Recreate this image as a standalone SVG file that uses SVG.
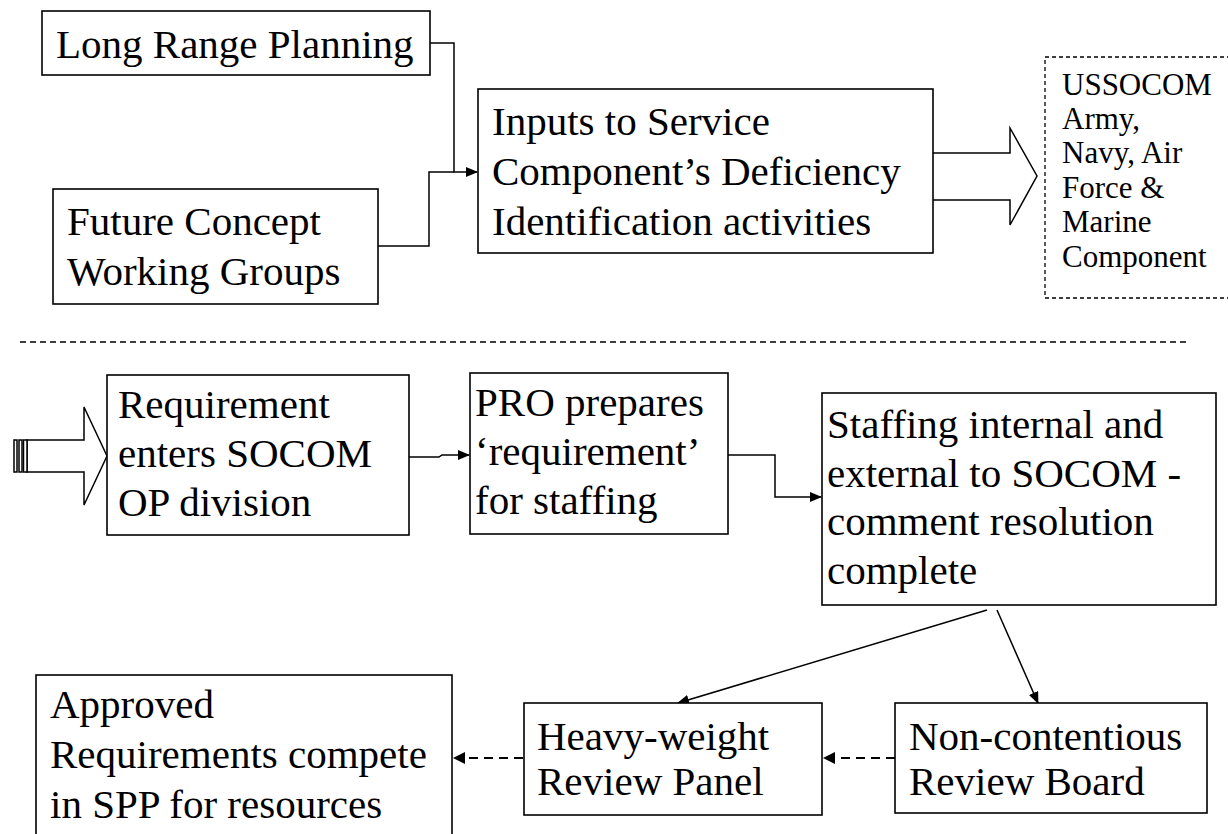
<svg xmlns="http://www.w3.org/2000/svg" width="1228" height="834" viewBox="0 0 1228 834">
<defs>
<style>
.box{fill:#fff;stroke:#000;stroke-width:1.6}
.t{font-family:'Liberation Serif','Times New Roman',Times,'DejaVu Serif',serif;font-size:41px;fill:#000}
.ts{font-family:'Liberation Serif','Times New Roman',Times,'DejaVu Serif',serif;font-size:31px;fill:#000}
.ln{fill:none;stroke:#000;stroke-width:1.5}
.dl{fill:none;stroke:#000;stroke-width:2;stroke-dasharray:9,6}
.hollow{fill:#fff;stroke:#000;stroke-width:1.5}
</style>
<marker id="ah" markerWidth="12" markerHeight="10" refX="11" refY="5" orient="auto" markerUnits="userSpaceOnUse">
<path d="M0,0 L12,5 L0,10 z" fill="#000"/>
</marker>
</defs>
<rect width="1228" height="834" fill="#fff"/>

<g id="connectors">
<path class="ln" d="M430,43 H454 V172 H477" marker-end="url(#ah)"/>
<path class="ln" d="M378,246 H429 V172 H454"/>
<path class="ln" d="M409,457 H439 L442,455 H469" marker-end="url(#ah)"/>
<path class="ln" d="M728,455 H775 V497 H821" marker-end="url(#ah)"/>
<path class="ln" d="M987,610 L678,703" marker-end="url(#ah)"/>
<path class="ln" d="M997,610 L1038,703" marker-end="url(#ah)"/>
<path class="dl" d="M895,758 H834"/>
<path d="M823,758 L835,752 L835,764 z" fill="#000"/>
<path class="dl" d="M523,758 H464"/>
<path d="M453,758 L465,752 L465,764 z" fill="#000"/>
<path class="hollow" d="M933,153 H1010 V128 L1037,176 L1010,225 V200 H933"/>
<path class="hollow" d="M27,440 H84 V407 L107,456 L84,505 V472 H27 z"/>
<rect class="hollow" x="14" y="440" width="3" height="32"/>
<rect class="hollow" x="19" y="440" width="3" height="32"/>
<rect class="hollow" x="23.5" y="440" width="3.5" height="32"/>
<line x1="20" y1="342" x2="1186" y2="342" stroke="#000" stroke-width="1.3" stroke-dasharray="6,4"/>
</g>

<g id="long-range">
<rect class="box" x="42" y="11" width="388" height="64"/>
<text class="t" x="56" y="58">Long Range Planning</text>
</g>
<g id="future-concept">
<rect class="box" x="53" y="189" width="325" height="115"/>
<text class="t" x="67" y="235">Future Concept</text>
<text class="t" x="67" y="285">Working Groups</text>
</g>
<g id="inputs">
<rect class="box" x="478" y="89" width="455" height="164"/>
<text class="t" x="492" y="135">Inputs to Service</text>
<text class="t" x="492" y="185">Component’s Deficiency</text>
<text class="t" x="492" y="235">Identification activities</text>
</g>
<g id="ussocom">
<rect x="1045" y="57" width="200" height="241" fill="none" stroke="#000" stroke-width="1.3" stroke-dasharray="4,3"/>
<text class="ts" x="1062" y="95">USSOCOM</text>
<text class="ts" x="1062" y="129">Army,</text>
<text class="ts" x="1062" y="163">Navy, Air</text>
<text class="ts" x="1062" y="198">Force &amp;</text>
<text class="ts" x="1062" y="232">Marine</text>
<text class="ts" x="1062" y="267">Component</text>
</g>
<g id="requirement">
<rect class="box" x="107" y="375" width="302" height="160"/>
<text class="t" x="118" y="418">Requirement</text>
<text class="t" x="118" y="467">enters SOCOM</text>
<text class="t" x="118" y="516">OP division</text>
</g>
<g id="pro">
<rect class="box" x="470" y="373" width="258" height="161"/>
<text class="t" x="475" y="416">PRO prepares</text>
<text class="t" x="475" y="465">‘requirement’</text>
<text class="t" x="475" y="514">for staffing</text>
</g>
<g id="staffing">
<rect class="box" x="822" y="393" width="394" height="212"/>
<text class="t" x="827" y="438">Staffing internal and</text>
<text class="t" x="827" y="487">external to SOCOM -</text>
<text class="t" x="827" y="535">comment resolution</text>
<text class="t" x="827" y="584">complete</text>
</g>
<g id="approved">
<rect class="box" x="36" y="675" width="416" height="180"/>
<text class="t" x="50" y="718">Approved</text>
<text class="t" x="50" y="768">Requirements compete</text>
<text class="t" x="50" y="818">in SPP for resources</text>
</g>
<g id="heavy-weight">
<rect class="box" x="524" y="703" width="298" height="112"/>
<text class="t" x="537" y="750">Heavy-weight</text>
<text class="t" x="537" y="795">Review Panel</text>
</g>
<g id="non-contentious">
<rect class="box" x="895" y="703" width="312" height="110"/>
<text class="t" x="909" y="750">Non-contentious</text>
<text class="t" x="909" y="795">Review Board</text>
</g>
</svg>
